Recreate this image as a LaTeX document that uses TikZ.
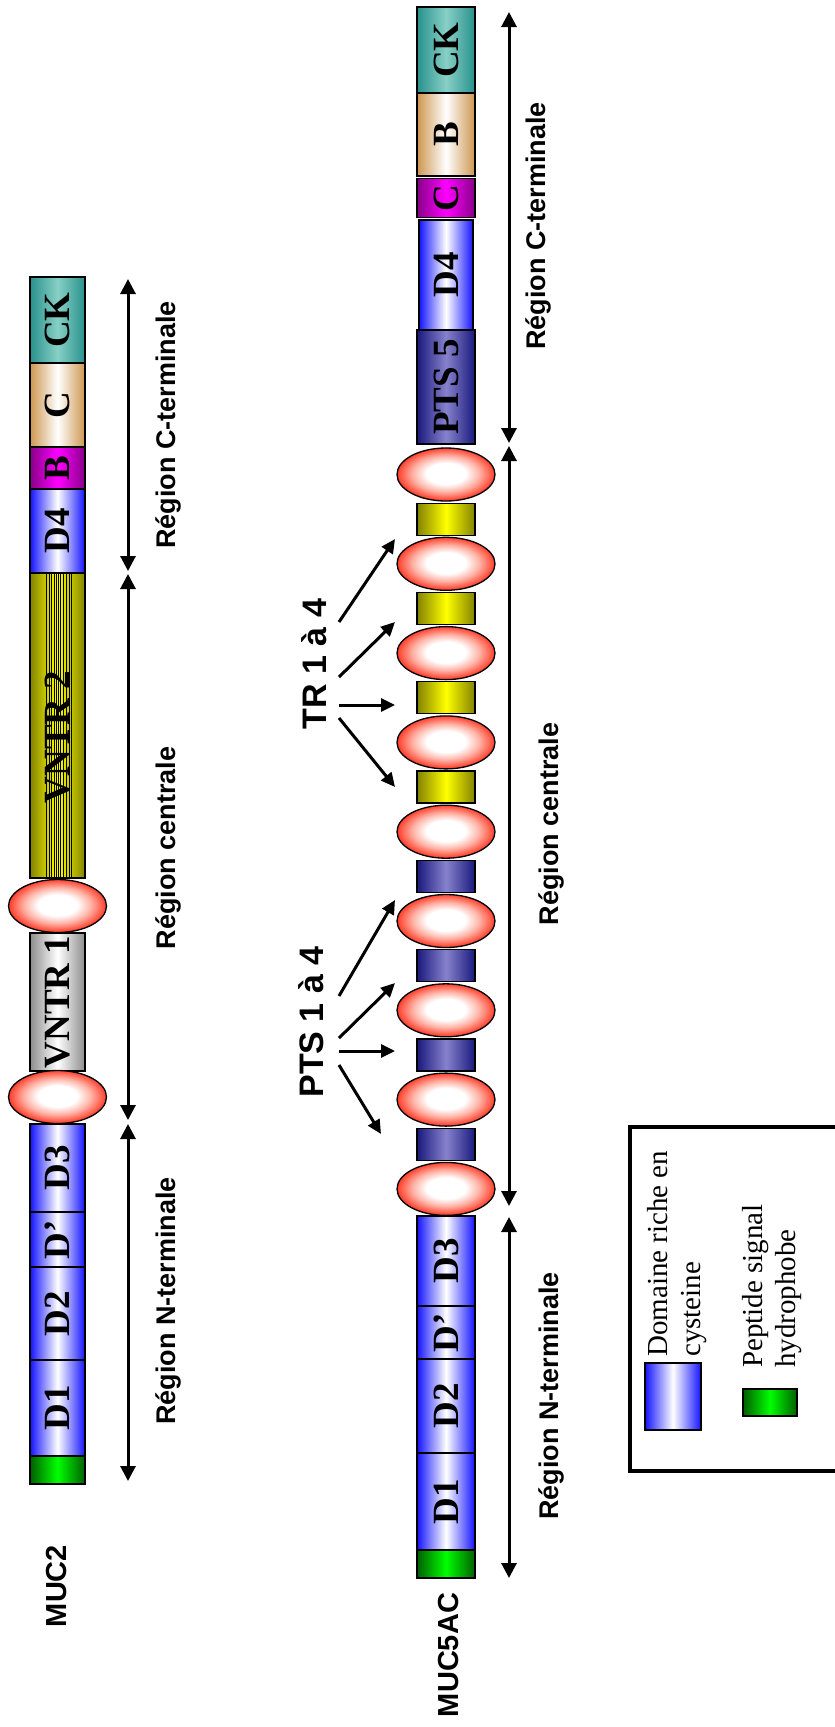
\documentclass[tikz,border=0pt]{standalone}
\usepackage{fontspec}
\setmainfont{Liberation Serif}
\newfontfamily\sansf{Liberation Sans}
\usetikzlibrary{arrows.meta,shapes.geometric}
\definecolor{tealE}{RGB}{40,145,140}
\definecolor{tealM}{RGB}{135,208,198}
\definecolor{tanE}{RGB}{205,150,80}
\definecolor{magE}{RGB}{135,0,135}
\definecolor{magM}{RGB}{255,0,255}
\definecolor{oliveE}{RGB}{130,130,0}
\definecolor{yelM}{RGB}{255,255,0}
\definecolor{navyE}{RGB}{25,25,125}
\definecolor{navyM}{RGB}{135,130,205}
\definecolor{grayE}{RGB}{140,140,140}
\definecolor{greenE}{RGB}{0,95,0}
\definecolor{greenM}{RGB}{0,255,0}
\definecolor{blueE}{RGB}{20,20,255}
\pgfdeclareradialshading{beadsh}{\pgfpoint{0bp}{1bp}}{rgb(0bp)=(1,1,1); rgb(10bp)=(1,1,1); rgb(17bp)=(1,0.7,0.65); rgb(25bp)=(1,0.235,0.157); rgb(50bp)=(1,0.235,0.157)}
\begin{document}
\begin{tikzpicture}[x=1pt,y=-1pt,
  grad/.style 2 args={left color=#1,right color=#1,middle color=#2},
  seg/.style={draw,line width=1.2pt,inner sep=0pt,font=\bfseries\fontsize{37}{37}\selectfont},
  colA/.style={minimum width=55pt},
  colB/.style={minimum width=58pt},
  dom/.style={grad={blueE}{white}},
  ckd/.style={grad={tealE}{tealM}},
  tand/.style={grad={tanE}{white}},
  magd/.style={grad={magE}{magM}},
  oliv/.style={grad={oliveE}{yelM}},
  navd/.style={grad={navyE}{navyM}},
  grayd/.style={grad={grayE}{white}},
  sigd/.style={grad={greenE}{greenM}},
  bead/.style={ellipse,draw,line width=1.3pt,minimum width=98pt,minimum height=53pt,inner sep=0pt,shading=beadsh},
  tr/.style={draw,line width=1.2pt,inner sep=0pt,minimum width=58pt,minimum height=32pt},
  region/.style={line width=3pt,{Triangle[length=15pt,width=15pt]}-{Triangle[length=15pt,width=15pt]}},
  ptr/.style={line width=3pt,-{Triangle[length=14pt,width=13pt]}},
  rlab/.style={rotate=90,font=\sansf\bfseries\fontsize{27}{27}\selectfont,inner sep=0pt},
  namel/.style={rotate=90,font=\sansf\bfseries\fontsize{29}{29}\selectfont,inner sep=0pt},
  bigl/.style={rotate=90,font=\sansf\bfseries\fontsize{34}{34}\selectfont,inner sep=0pt},
  leg/.style={rotate=90,font=\fontsize{29}{33}\selectfont,align=left,inner sep=0pt,anchor=north west}
]
\useasboundingbox (0,0) rectangle (835,1727);

% ---------------- MUC2 ----------------
\node[seg,colA,ckd,minimum height=86pt] (a-ck) at (57.5,320) {\rotatebox{90}{CK}};
\node[seg,colA,tand,minimum height=84pt] (a-c) at (57.5,405) {\rotatebox{90}{C}};
\node[seg,colA,magd,minimum height=42pt] (a-b) at (57.5,468) {\rotatebox{90}{B}};
\node[seg,colA,dom,minimum height=84pt] (a-d4) at (57.5,531) {\rotatebox{90}{D4}};
\node[seg,colA,oliv,minimum height=305pt] (a-v2) at (57.5,725.5) {};
\foreach \xx in {46,49,51.5,54,56.5,58,60.5,63.5,66.5,69,71.5}
  \draw[line width=0.5pt] (\xx,574) -- (\xx,877);
\node[font=\bfseries\fontsize{37}{37}\selectfont,inner sep=0pt] (a-v2t) at (57.5,737) {\rotatebox{90}{VNTR 2}};
\node[seg,colA,grayd,minimum height=138pt] (a-v1) at (57.5,1002) {\rotatebox{90}{VNTR 1}};
\node[bead] (a-e1) at (57.5,906) {};
\node[bead] (a-e2) at (57.5,1097) {};
\node[seg,colA,dom,minimum height=88pt] (a-d3) at (57.5,1168) {\rotatebox{90}{D3}};
\node[seg,colA,dom,minimum height=55pt] (a-dp) at (57.5,1239.5) {\rotatebox{90}{D’}};
\node[seg,colA,dom,minimum height=93pt] (a-d2) at (57.5,1313.5) {\rotatebox{90}{D2}};
\node[seg,colA,dom,minimum height=96pt] (a-d1) at (57.5,1408) {\rotatebox{90}{D1}};
\node[seg,colA,sigd,minimum height=28pt] (a-sp) at (57.5,1470) {};

\coordinate (a-r1) at (128,279);
\coordinate (a-r2) at (128,571);
\coordinate (a-r3) at (128,574);
\coordinate (a-r4) at (128,1120);
\coordinate (a-r5) at (128,1124);
\coordinate (a-r6) at (128,1481);
\draw[region] (a-r1) -- (a-r2);
\draw[region] (a-r3) -- (a-r4);
\draw[region] (a-r5) -- (a-r6);

\node[rlab] (a-lc) at (168,425) {Région C-terminale};
\node[rlab] (a-lm) at (168,848) {Région centrale};
\node[rlab] (a-ln) at (168,1301) {Région N-terminale};
\node[namel] (a-name) at (57,1586) {MUC2};

% ---------------- MUC5AC ----------------
\node[seg,colB,ckd,minimum height=86pt] (b-ck) at (446,50) {\rotatebox{90}{CK}};
\node[seg,colB,tand,minimum height=83pt] (b-b) at (446,134.5) {\rotatebox{90}{B}};
\node[seg,colB,magd,minimum height=39pt] (b-c) at (446,198) {\rotatebox{90}{C}};
\node[seg,minimum width=54pt,dom,minimum height=110pt] (b-d4) at (446,275) {\rotatebox{90}{D4}};
\node[seg,colB,navd,minimum height=114pt] (b-p5) at (446,387) {\rotatebox{90}{PTS 5}};

\foreach \k in {0,1,2,3} {
  \node[tr,oliv] (b-t\k) at (446,{474.5+89.3*\k+44.65}) {};
}
\foreach \k in {4,5,6,7} {
  \node[tr,navd] (b-t\k) at (446,{474.5+89.3*\k+44.65}) {};
}
\foreach \k in {0,...,8} {
  \node[bead] (b-e\k) at (446,{474.5+89.3*\k}) {};
}

\node[seg,colB,dom,minimum height=90pt] (b-d3) at (446,1261) {\rotatebox{90}{D3}};
\node[seg,colB,dom,minimum height=53pt] (b-dp) at (446,1332.5) {\rotatebox{90}{D’}};
\node[seg,colB,dom,minimum height=94pt] (b-d2) at (446,1406) {\rotatebox{90}{D2}};
\node[seg,colB,dom,minimum height=97pt] (b-d1) at (446,1501.5) {\rotatebox{90}{D1}};
\node[seg,colB,sigd,minimum height=28pt] (b-sp) at (446,1564) {};

\coordinate (b-r1) at (509,12);
\coordinate (b-r2) at (509,443);
\coordinate (b-r3) at (509,446);
\coordinate (b-r4) at (509,1206);
\coordinate (b-r5) at (509,1217);
\coordinate (b-r6) at (509,1578);
\draw[region] (b-r1) -- (b-r2);
\draw[region] (b-r3) -- (b-r4);
\draw[region] (b-r5) -- (b-r6);

\node[rlab] (b-lc) at (538,226) {Région C-terminale};
\node[rlab] (b-lm) at (551,824) {Région centrale};
\node[rlab] (b-ln) at (551,1396) {Région N-terminale};
\node[namel] (b-name) at (449,1655) {MUC5AC};

% pointers
\node[bigl] (trl) at (314,664) {TR 1 à 4};
\node[bigl] (ptsl) at (311,1022) {PTS 1 à 4};
\coordinate (t-s1) at (339,622); \coordinate (t-e1) at (395,539);
\coordinate (t-s2) at (339,677); \coordinate (t-e2) at (395,622);
\coordinate (t-s3) at (339,705); \coordinate (t-e3) at (395,705);
\coordinate (t-s4) at (339,718); \coordinate (t-e4) at (395,787);
\foreach \i in {1,2,3,4} \draw[ptr] (t-s\i) -- (t-e\i);
\coordinate (p-s1) at (339,996); \coordinate (p-e1) at (395,900);
\coordinate (p-s2) at (339,1038); \coordinate (p-e2) at (395,983);
\coordinate (p-s3) at (339,1051); \coordinate (p-e3) at (395,1051);
\coordinate (p-s4) at (339,1065); \coordinate (p-e4) at (381,1134);
\foreach \i in {1,2,3,4} \draw[ptr] (p-s\i) -- (p-e\i);

% legend
\draw[line width=4.5pt] (850,1127) -- (630,1127) -- (630,1471) -- (850,1471);
\node[draw,line width=1.2pt,dom,minimum width=56pt,minimum height=67pt,inner sep=0pt] (l-blue) at (673,1396.5) {};
\node[draw,line width=1.2pt,sigd,minimum width=54pt,minimum height=27pt,inner sep=0pt] (l-green) at (770,1402.5) {};
\node[leg] (l-t1) at (647,1357) {Domaine riche en\\cysteine};
\node[leg] (l-t2) at (742,1368) {Peptide signal\\hydrophobe};
\end{tikzpicture}
\end{document}
